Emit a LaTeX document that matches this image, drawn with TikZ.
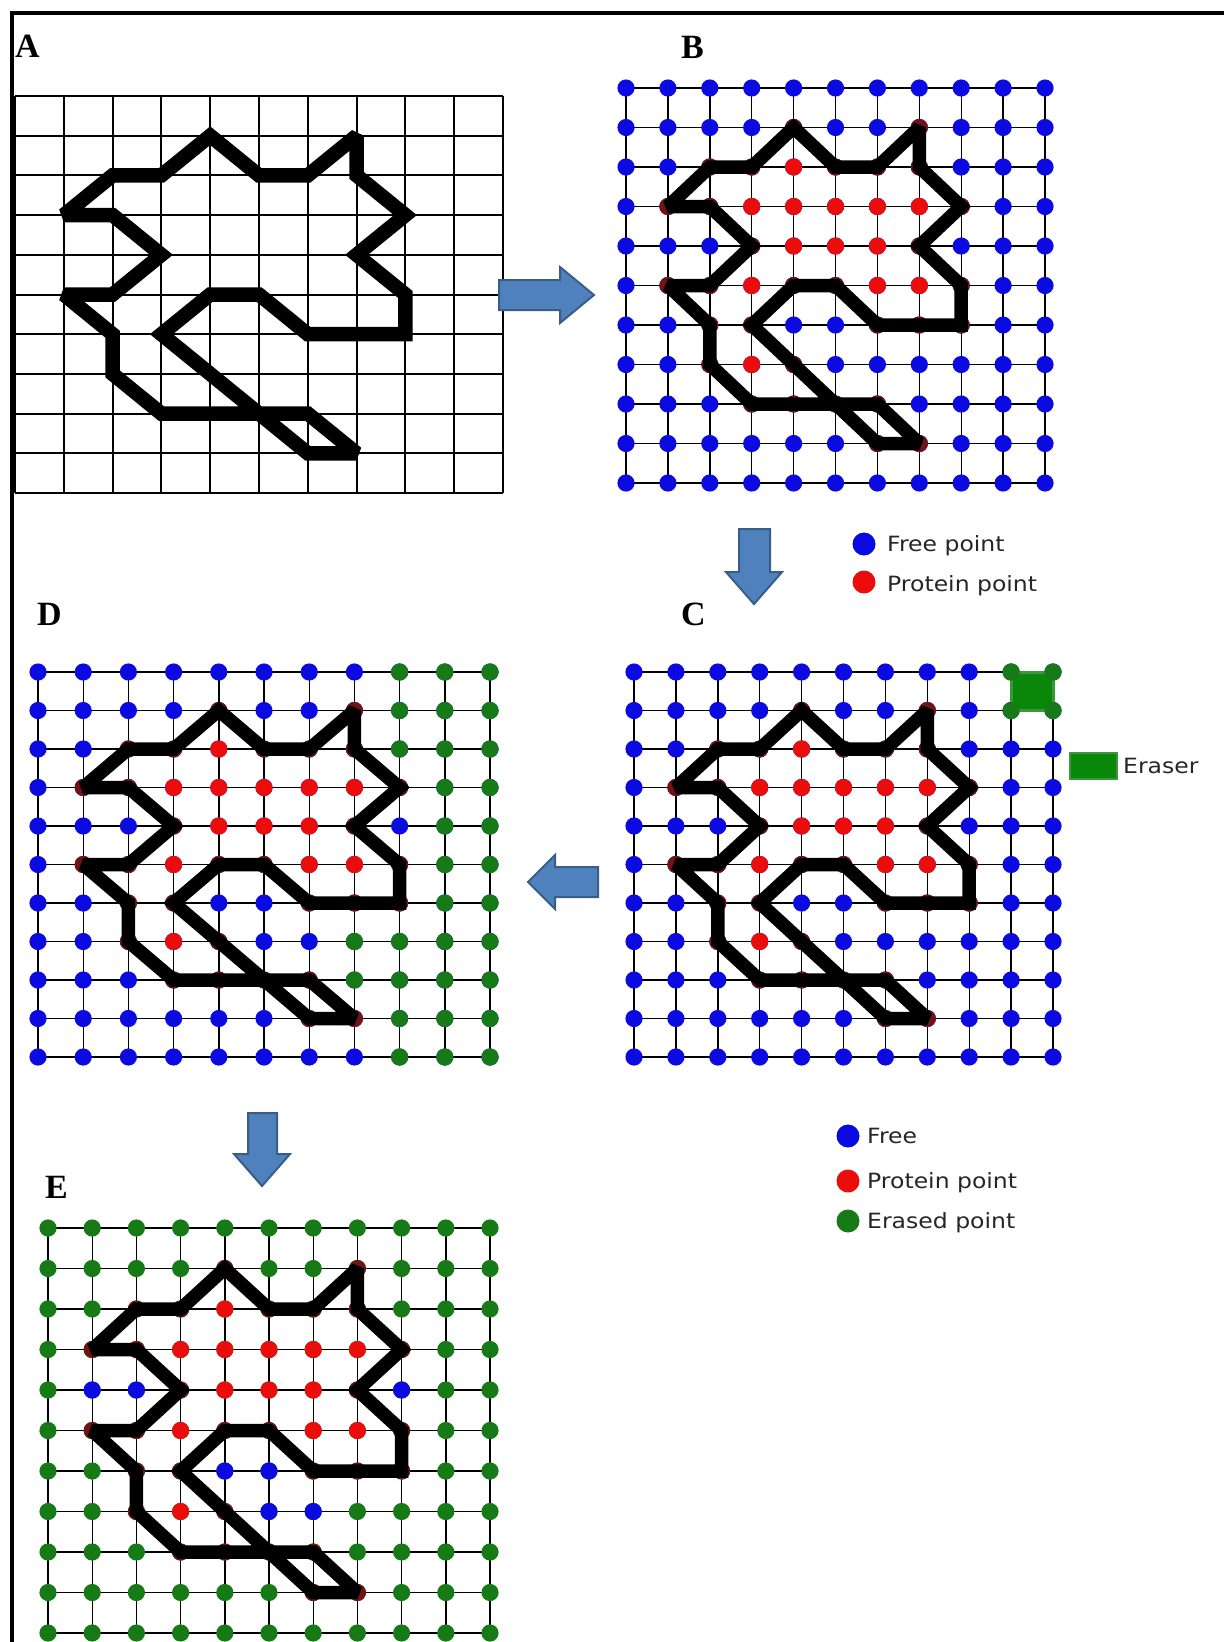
\documentclass[tikz,border=0pt]{standalone}
\usepackage{fontspec}
\setmainfont{Liberation Serif}
\newfontfamily\legendfont[FakeStretch=1.12]{DejaVu Sans}
\definecolor{freeblue}{RGB}{10,10,225}
\definecolor{protred}{RGB}{235,12,12}
\definecolor{erasegreen}{RGB}{22,122,22}
\definecolor{edgered}{RGB}{115,20,20}
\definecolor{eraserfill}{RGB}{8,135,8}
\definecolor{eraseredge}{RGB}{60,150,60}
\definecolor{arrowfill}{RGB}{79,129,189}
\definecolor{arrowedge}{RGB}{56,93,138}
\def\redpts{4/2,3/3,4/3,5/3,6/3,7/3,4/4,5/4,6/4,3/5,6/5,7/5,3/7}
\def\polypts{1/3,2/2,3/2,4/1,5/2,6/2,7/1,7/2,8/3,7/4,8/5,8/6,7/6,6/6,5/5,4/5,3/6,4/7,5/8,6/9,7/9,6/8,4/8,3/8,2/7,2/6,1/5,2/5,3/4,2/3}
\def\greenD{8/0,9/0,10/0,8/1,9/1,10/1,8/2,9/2,10/2,9/3,10/3,9/4,10/4,9/5,10/5,9/6,10/6,7/7,8/7,9/7,10/7,7/8,8/8,9/8,10/8,8/9,9/9,10/9,8/10,9/10,10/10}
\def\blueE{1/4,2/4,8/4,4/6,5/6,5/7,6/7}
\begin{document}
\begin{tikzpicture}[x=1pt,y=-1pt,
  gridline/.style={line width=1.4pt, black},
  agrid/.style={line width=2pt, black},
  contour/.style={line width=13.5pt, black, line join=miter, miter limit=2},
  lab/.style={font=\fontsize{34}{34}\selectfont\bfseries, inner sep=0pt, anchor=base west},
  legtext/.style={font=\legendfont\fontsize{21}{21}\selectfont, text=black!85, inner sep=0pt, anchor=base west},
  blockarrow/.style={fill=arrowfill, draw=arrowedge, line width=2pt, line join=miter}
]
\useasboundingbox (0,0) rectangle (1224,1642);
\fill[white] (0,0) rectangle (1224,1642);
% frame
\draw[line width=4pt] (11.5,1642) -- (11.5,13) -- (1224,13);

% labels
\node[lab] (labA) at (15,57) {A};
\node[lab] (labB) at (681,58) {B};
\node[lab] (labC) at (681,625) {C};
\node[lab] (labD) at (37,625) {D};
\node[lab] (labE) at (45,1198) {E};

% ---------- Panel A ----------
\begin{scope}[shift={(15,96)}, x=48.8pt, y=-39.7pt]
  \foreach \i in {0,...,10} {\draw[agrid] (\i,0) -- (\i,10); \draw[agrid] (0,\i) -- (10,\i);}
  \draw[contour, line width=14.5pt] (1,3) -- (2,2) -- (3,2) -- (4,1) -- (5,2) -- (6,2) -- (7,1) -- (7,2) -- (8,3) -- (7,4) -- (8,5) -- (8,6) -- (6,6) -- (5,5) -- (4,5) -- (3,6) -- (6,9) -- (7,9) -- (6,8) -- (3,8) -- (2,7) -- (2,6) -- (1,5) -- (2,5) -- (3,4) -- (2,3) -- cycle;
\end{scope}

% ---------- Panel B ----------
\begin{scope}[shift={(626,88)}, x=41.9pt, y=-39.5pt]
  \foreach \i in {0,...,10} {\draw[gridline] (\i,0) -- (\i,10); \draw[gridline] (0,\i) -- (10,\i);}
  \foreach \c in {0,...,10} {\foreach \r in {0,...,10} {\fill[freeblue] (\c,\r) circle[radius=8.6pt];}}
  \foreach \c/\r in \redpts {\fill[protred] (\c,\r) circle[radius=8.6pt];}
  \foreach \c/\r in \polypts {\fill[edgered] (\c,\r) circle[radius=8.6pt];}
  \draw[contour] (1,3) -- (2,2) -- (3,2) -- (4,1) -- (5,2) -- (6,2) -- (7,1) -- (7,2) -- (8,3) -- (7,4) -- (8,5) -- (8,6) -- (6,6) -- (5,5) -- (4,5) -- (3,6) -- (6,9) -- (7,9) -- (6,8) -- (3,8) -- (2,7) -- (2,6) -- (1,5) -- (2,5) -- (3,4) -- (2,3) -- cycle;
\end{scope}

% ---------- Panel C ----------
\begin{scope}[shift={(634,672)}, x=41.9pt, y=-38.5pt]
  \foreach \i in {0,...,10} {\draw[gridline] (\i,0) -- (\i,10); \draw[gridline] (0,\i) -- (10,\i);}
  \foreach \c in {0,...,10} {\foreach \r in {0,...,10} {\fill[freeblue] (\c,\r) circle[radius=8.6pt];}}
  \foreach \c/\r in \redpts {\fill[protred] (\c,\r) circle[radius=8.6pt];}
  \foreach \c/\r in \polypts {\fill[edgered] (\c,\r) circle[radius=8.6pt];}
  \draw[contour] (1,3) -- (2,2) -- (3,2) -- (4,1) -- (5,2) -- (6,2) -- (7,1) -- (7,2) -- (8,3) -- (7,4) -- (8,5) -- (8,6) -- (6,6) -- (5,5) -- (4,5) -- (3,6) -- (6,9) -- (7,9) -- (6,8) -- (3,8) -- (2,7) -- (2,6) -- (1,5) -- (2,5) -- (3,4) -- (2,3) -- cycle;
  % eraser
  \filldraw[fill=eraserfill, draw=eraseredge, line width=3pt] (9,0) rectangle (10,1);
  \foreach \c/\r in {9/0,10/0,9/1,10/1} {\fill[erasegreen] (\c,\r) circle[radius=8.6pt];}
\end{scope}

% ---------- Panel D ----------
\begin{scope}[shift={(38,672)}, x=45.2pt, y=-38.5pt]
  \foreach \i in {0,...,10} {\draw[gridline] (\i,0) -- (\i,10); \draw[gridline] (0,\i) -- (10,\i);}
  \foreach \c in {0,...,10} {\foreach \r in {0,...,10} {\fill[freeblue] (\c,\r) circle[radius=8.6pt];}}
  \foreach \c/\r in \greenD {\fill[erasegreen] (\c,\r) circle[radius=8.6pt];}
  \foreach \c/\r in \redpts {\fill[protred] (\c,\r) circle[radius=8.6pt];}
  \foreach \c/\r in \polypts {\fill[edgered] (\c,\r) circle[radius=8.6pt];}
  \draw[contour] (1,3) -- (2,2) -- (3,2) -- (4,1) -- (5,2) -- (6,2) -- (7,1) -- (7,2) -- (8,3) -- (7,4) -- (8,5) -- (8,6) -- (6,6) -- (5,5) -- (4,5) -- (3,6) -- (6,9) -- (7,9) -- (6,8) -- (3,8) -- (2,7) -- (2,6) -- (1,5) -- (2,5) -- (3,4) -- (2,3) -- cycle;
\end{scope}

% ---------- Panel E ----------
\begin{scope}[shift={(48,1228)}, x=44.2pt, y=-40.5pt]
  \foreach \i in {0,...,10} {\draw[gridline] (\i,0) -- (\i,10); \draw[gridline] (0,\i) -- (10,\i);}
  \foreach \c in {0,...,10} {\foreach \r in {0,...,10} {\fill[erasegreen] (\c,\r) circle[radius=8.6pt];}}
  \foreach \c/\r in \blueE {\fill[freeblue] (\c,\r) circle[radius=8.6pt];}
  \foreach \c/\r in \redpts {\fill[protred] (\c,\r) circle[radius=8.6pt];}
  \foreach \c/\r in \polypts {\fill[edgered] (\c,\r) circle[radius=8.6pt];}
  \draw[contour] (1,3) -- (2,2) -- (3,2) -- (4,1) -- (5,2) -- (6,2) -- (7,1) -- (7,2) -- (8,3) -- (7,4) -- (8,5) -- (8,6) -- (6,6) -- (5,5) -- (4,5) -- (3,6) -- (6,9) -- (7,9) -- (6,8) -- (3,8) -- (2,7) -- (2,6) -- (1,5) -- (2,5) -- (3,4) -- (2,3) -- cycle;
\end{scope}

% ---------- block arrows ----------
% A -> B (right)
\draw[blockarrow] (499,280) -- (560,280) -- (560,267) -- (594,295) -- (560,323) -- (560,310) -- (499,310) -- cycle;
% B -> C (down)
\draw[blockarrow] (739,529) -- (770,529) -- (770,572) -- (782,572) -- (754,604) -- (726,572) -- (739,572) -- cycle;
% C -> D (left)
\draw[blockarrow] (598,867) -- (555,867) -- (555,855) -- (528,882) -- (555,909) -- (555,897) -- (598,897) -- cycle;
% D -> E (down)
\draw[blockarrow] (248,1113) -- (277,1113) -- (277,1154) -- (290,1154) -- (262,1186) -- (234,1154) -- (248,1154) -- cycle;

% ---------- legend 1 ----------
\fill[freeblue] (864,544) circle[radius=11.5pt];
\node[legtext] (l1free) at (887,551) {Free point};
\fill[protred] (864,582) circle[radius=11.5pt];
\node[legtext] (l1prot) at (887,591) {Protein point};

% ---------- eraser legend ----------
\filldraw[fill=eraserfill, draw=eraseredge, line width=1.5pt] (1070,753) rectangle (1117,779);
\node[legtext] (leraser) at (1123,773) {Eraser};

% ---------- legend 2 ----------
\fill[freeblue] (848,1136) circle[radius=11.5pt];
\node[legtext] (l2free) at (867,1143) {Free};
\fill[protred] (848,1181) circle[radius=11.5pt];
\node[legtext] (l2prot) at (867,1188) {Protein point};
\fill[erasegreen] (848,1221) circle[radius=11.5pt];
\node[legtext] (l2erased) at (867,1228) {Erased point};
\end{tikzpicture}
\end{document}
